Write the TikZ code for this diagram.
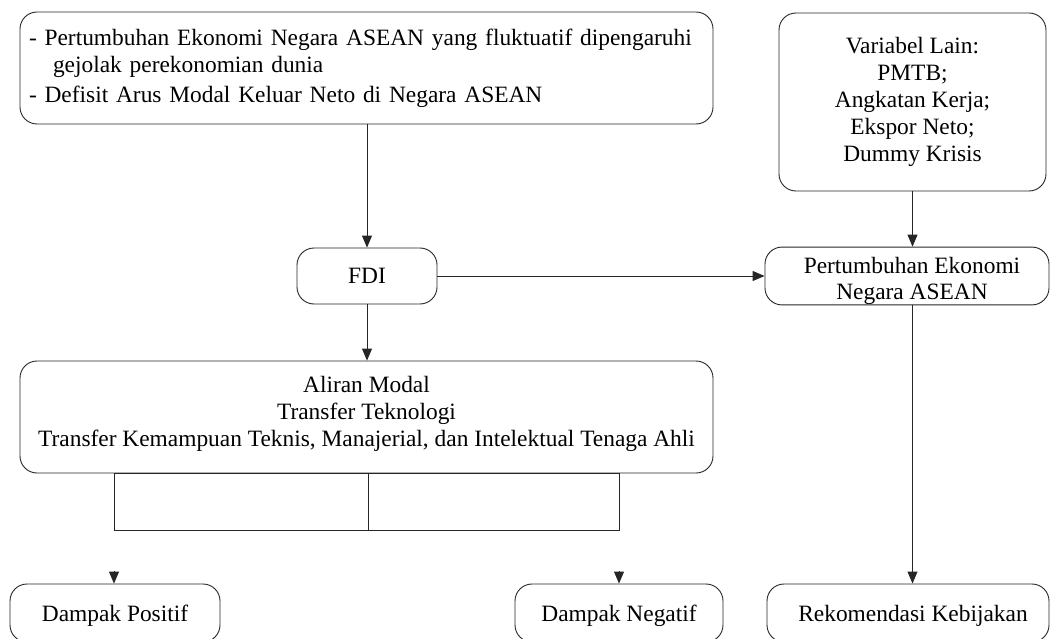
\documentclass[tikz,border=0pt]{standalone}
\usepackage{fontspec}
\setmainfont{Liberation Serif}
\usetikzlibrary{arrows.meta}
\begin{document}
\begin{tikzpicture}[x=1pt,y=-1pt,
  box/.style={draw=black!85, line width=0.9pt, rounded corners=17pt, inner xsep=2pt, inner ysep=0pt,
    font=\fontsize{23.4}{26.8}\selectfont, align=center},
  arr/.style={draw=black!85, line width=0.9pt, -{Triangle[length=12pt,width=10pt]}},
  ln/.style={draw=black!85, line width=0.9pt}]
\clip (0,0) rectangle (1051,639);
\fill[white] (0,0) rectangle (1051,639);

\node[box, minimum width=693pt, minimum height=112pt, inner xsep=9pt, text width=675pt, align=left] (top) at (366.5,68)
  {- Pertumbuhan Ekonomi Negara ASEAN yang fluktuatif dipengaruhi\\
   \hspace*{24pt}gejolak perekonomian dunia\\[3pt]
   - Defisit Arus Modal Keluar Neto di Negara ASEAN};

\node[box, minimum width=267pt, minimum height=178pt] (var) at (912.5,102)
  {Variabel Lain:\\PMTB;\\Angkatan Kerja;\\Ekspor Neto;\\Dummy Krisis};

\node[box, minimum width=140pt, minimum height=56pt] (fdi) at (367,276) {FDI};

\node[box, minimum width=284pt, minimum height=56pt] (pe) at (907,276)
  {\rule{0pt}{26pt}\hspace*{10pt}Pertumbuhan Ekonomi\\\hspace*{10pt}Negara ASEAN};

\node[box, minimum width=693pt, minimum height=112pt] (al) at (366.5,417)
  {Aliran Modal\\Transfer Teknologi\\Transfer Kemampuan Teknis, Manajerial, dan Intelektual Tenaga Ahli\\[-16pt]};

\node[box, minimum width=210pt, minimum height=58pt] (dp) at (115,613) {\rule{0pt}{22pt}Dampak Positif};
\node[box, minimum width=208pt, minimum height=58pt] (dn) at (619,613) {\rule{0pt}{22pt}Dampak Negatif};
\node[box, minimum width=282pt, minimum height=58pt] (rk) at (908,613) {\rule{0pt}{22pt}\hspace*{10pt}Rekomendasi Kebijakan};

% bracket
\coordinate (bl) at (114,530);
\coordinate (br) at (619,530);
\coordinate (bm) at (368,530);
\draw[ln] (bl |- al.south) rectangle (br);
\draw[ln] (bm |- al.south) -- (bm);

% arrows
\draw[arr] (top.south -| fdi) -- (fdi.north);
\draw[arr] (var.south) -- (var.south |- pe.north);
\draw[arr] (fdi.east) -- (pe.west);
\draw[arr] (fdi.south) -- (al.north -| fdi);
\draw[arr] (var.south |- pe.south) -- (var.south |- rk.north);
\coordinate (al1) at (114,571);
\coordinate (al2) at (619,571);
\draw[arr] (al1) -- (al1 |- dp.north);
\draw[arr] (al2) -- (al2 |- dn.north);
\end{tikzpicture}
\end{document}
